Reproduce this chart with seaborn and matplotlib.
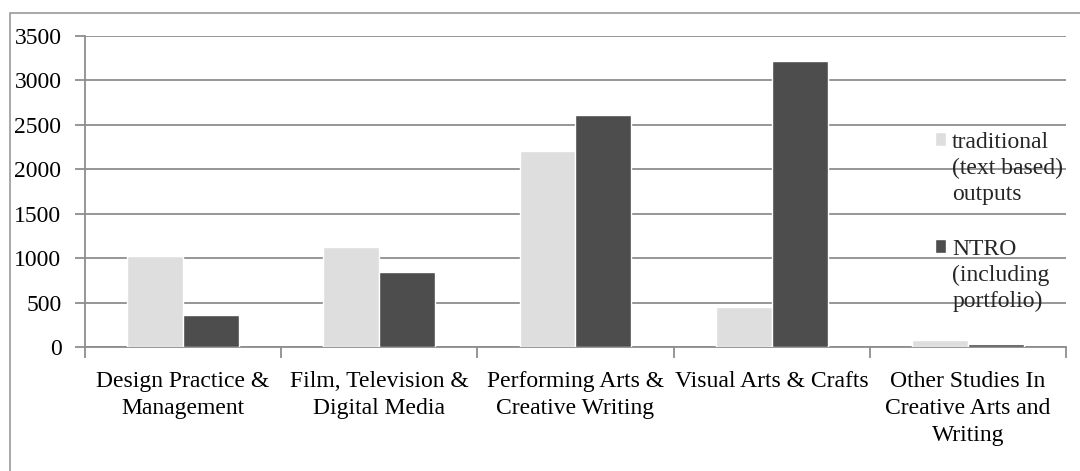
import matplotlib
matplotlib.use("Agg")
import matplotlib.pyplot as plt
import seaborn as sns
import pandas as pd
from matplotlib.patches import Rectangle

categories = ["Design Practice &\nManagement", "Film, Television &\nDigital Media",
              "Performing Arts &\nCreative Writing", "Visual Arts & Crafts",
              "Other Studies In\nCreative Arts and\nWriting"]
traditional = [1025, 1130, 2200, 450, 85]
ntro = [365, 850, 2605, 3215, 35]
series = ["traditional\n(text based)\noutputs", "NTRO\n(including\nportfolio)"]
yticks = [0, 500, 1000, 1500, 2000, 2500, 3000, 3500]

df = pd.DataFrame({
    "cat": categories * 2,
    "val": traditional + ntro,
    "series": [series[0]] * len(categories) + [series[1]] * len(categories),
})

sns.set_theme(style="white")
plt.rcParams["font.family"] = ["Liberation Serif", "DejaVu Serif"]

fig = plt.figure(figsize=(10.8, 4.71), dpi=100)
ax = fig.add_axes([0.0787, 0.263, 0.9083, 0.661])
gridc = "#8e8e8e"
sns.barplot(data=df, x="cat", y="val", hue="series", order=categories, hue_order=series,
            palette=["#dedede", "#4d4d4d"], width=0.57, gap=0, saturation=1,
            ax=ax, zorder=3)
ax.set_xlim(-0.5, len(categories) - 0.5)
ax.set_ylim(0, 3500)
ax.set_yticks(yticks)
ax.set_yticklabels([str(v) for v in yticks], fontsize=17, color="black")
ax.yaxis.grid(True, color=gridc, linewidth=1.3, zorder=0)
ax.set_axisbelow(True)
ax.set_xlabel("")
ax.set_ylabel("")
for s in ["top", "right"]:
    ax.spines[s].set_visible(False)
for s in ["left", "bottom"]:
    ax.spines[s].set_color(gridc)
    ax.spines[s].set_linewidth(1.3)
ax.tick_params(axis="y", which="major", length=7, color=gridc, width=1.3, direction="out", pad=10, left=True)
ax.set_xticks(range(len(categories)))
ax.set_xticklabels(categories, fontsize=17, color="black", linespacing=1.38)
ax.tick_params(axis="x", which="major", length=0, pad=17)
ax.set_xticks([i - 0.5 for i in range(len(categories) + 1)], minor=True)
ax.tick_params(axis="x", which="minor", length=8, color=gridc, width=1.3, direction="out", bottom=True)

leg = ax.legend(loc="upper left", bbox_to_anchor=(0.866, 0.69), frameon=False, fontsize=17,
                handlelength=0.5, handleheight=0.5, handletextpad=0.25, labelspacing=1.45,
                borderaxespad=0, borderpad=0)
for t in leg.get_texts():
    t.set_linespacing(1.3)
for col in leg._legend_handle_box.get_children():
    col.align = "left"
    for row in col.get_children():
        row.align = "top"

fig.patches.append(Rectangle((0.009, -0.01), 1.0, 0.983, transform=fig.transFigure,
                             fill=False, edgecolor="#9a9a9a", linewidth=1.2))
fig.savefig("out.png", dpi=100)
